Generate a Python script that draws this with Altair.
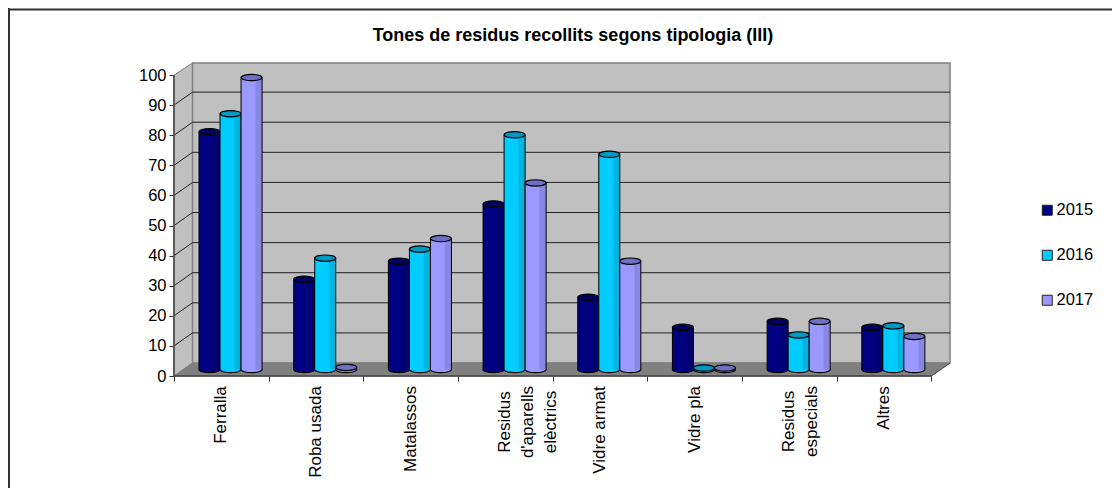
import altair as alt
import pandas as pd

categories = ["Ferralla", "Roba usada", "Matalassos", "Residus\nd'aparells\nelèctrics",
              "Vidre armat", "Vidre pla", "Residus\nespecials", "Altres"]
label_extent = [58, 92, 86, 72, 88, 67, 71, 44]
years = ["2015", "2016", "2017"]
v2015 = [79, 30, 36, 55, 24, 14, 16, 14]
v2016 = [85, 37, 40, 78, 71.5, 0.5, 11.5, 14.5]
v2017 = [97, 0.7, 43.5, 62, 36, 0.5, 16, 11]
series_values = [v2015, v2016, v2017]
y_ticks = list(range(0, 101, 10))

base_col = ["#000080", "#00CCFF", "#9999FF"]
side_col = ["#000070", "#00B4E0", "#8888E4"]
top_col = ["#000060", "#0099C4", "#6F6FC4"]

PLOT_W, PLOT_H = 776, 313
X_MAX = 8.1956
Y_MAX = 104.0
PX_PER_UNIT = PLOT_H / Y_MAX
DX, DY = 0.1956, 4.32        # depth of the 3D box in data units
BAR = 0.222                  # bar width in category units
XOFF, YOFF = 9.2, -6.5       # bars stand in the middle of the depth

rows = []
for s, (yr, vals) in enumerate(zip(years, series_values)):
    for i, (c, v) in enumerate(zip(categories, vals)):
        rows.append({"cat": c, "year": yr, "s": s, "value": v, "zero": 0,
                     "x0": i + 0.5 + (s - 1.5) * BAR,
                     "x1": i + 0.5 + (s - 0.5) * BAR,
                     "xc": i + 0.5 + (s - 1) * BAR})
df = pd.DataFrame(rows)
cat_df = pd.DataFrame({"cat": categories, "xc": [i + 0.5 for i in range(8)],
                       "ly": [-(10 + e / 2) / PX_PER_UNIT for e in label_extent]})
grid_df = pd.DataFrame({"v": y_ticks})
grid_df["vb"] = grid_df.v + DY

FONT = "Liberation Sans"
xs = alt.Scale(domain=[0, X_MAX], nice=False, zero=False)
ys = alt.Scale(domain=[0, Y_MAX], nice=False, zero=False)
x_axis = alt.Axis(values=list(range(0, 9)), labels=False, title=None, grid=False, domain=False,
                  tickColor="#303030", tickSize=5, tickWidth=1)
y_axis = alt.Axis(values=y_ticks, title=None, grid=False, domain=False, labelFont=FONT,
                  labelFontSize=16.5, labelColor="#000000", labelPadding=3,
                  tickColor="#303030", tickSize=5, tickWidth=1)
X = lambda f: alt.X(f, type="quantitative", scale=xs, axis=x_axis)
Y = lambda f: alt.Y(f, type="quantitative", scale=ys, axis=y_axis)
Xd = lambda v: alt.X(datum=v, type="quantitative", scale=xs, axis=x_axis)
Yd = lambda v: alt.Y(datum=v, type="quantitative", scale=ys, axis=y_axis)

layers = []

# outer frame: only its left and top edges fall inside the picture
one = alt.Chart(pd.DataFrame({"a": [0]}))
layers.append(one.mark_rule(color="#333333", strokeWidth=2).encode(
    x=alt.value(-165), y=alt.value(-55), y2=alt.value(433)))
layers.append(one.mark_rule(color="#333333", strokeWidth=2).encode(
    x=alt.value(-166), x2=alt.value(946), y=alt.value(-53.5)))

# side wall, back wall, floor
side = alt.Chart(pd.DataFrame({"x": [0, DX], "lo": [0, DY], "hi": [100, Y_MAX]})).mark_area(
    fill="#C0C0C0", stroke="#808080", strokeWidth=1).encode(
    x=X("x"), y=Y("hi"), y2=alt.Y2("lo"))
back = alt.Chart(pd.DataFrame({"x": [DX, X_MAX], "lo": [DY, DY], "hi": [Y_MAX, Y_MAX]})).mark_area(
    fill="#C0C0C0", stroke="#808080", strokeWidth=1.5).encode(
    x=X("x"), y=Y("hi"), y2=alt.Y2("lo"))
floor = alt.Chart(pd.DataFrame({"x": [0, DX, 8, X_MAX], "lo": [0, 0, 0, DY], "hi": [0, DY, DY, DY]})).mark_area(
    fill="#808080", stroke="#808080").encode(
    x=X("x"), y=Y("hi"), y2=alt.Y2("lo"))
layers += [side, back, floor]

# gridlines on back wall and on side wall
g = alt.Chart(grid_df[grid_df.v.between(10, 90)])
layers.append(g.mark_rule(color="#202020", strokeWidth=1).encode(
    x=Xd(DX), x2=alt.X2(datum=X_MAX), y=Y("vb")))
layers.append(g.mark_rule(color="#202020", strokeWidth=1).encode(
    x=Xd(0), x2=alt.X2(datum=DX), y=Y("v"), y2=alt.Y2("vb")))

# axis lines
layers.append(one.mark_rule(color="#404040", strokeWidth=1.5).encode(x=Xd(0), y=Yd(0), y2=alt.Y2(datum=100)))
layers.append(one.mark_rule(color="#404040", strokeWidth=1.5).encode(x=Xd(0), x2=alt.X2(datum=8), y=Yd(0)))
layers.append(one.mark_rule(color="#505050", strokeWidth=1).encode(x=Xd(8), x2=alt.X2(datum=X_MAX), y=Yd(0), y2=alt.Y2(datum=DY)))

# category labels
layers.append(alt.Chart(cat_df).mark_text(angle=270, align="center", baseline="middle", font=FONT, fontSize=17,
                                          lineBreak="\n", lineHeight=23, color="black").encode(
    x=X("xc"), y=Y("ly"), text="cat:N"))

# bases of the cylinders, which also carry the legend
ELL = "M-1,0 C-1,-0.16 -0.55,-0.3 0,-0.3 C0.55,-0.3 1,-0.16 1,0 C1,0.16 0.55,0.3 0,0.3 C-0.55,0.3 -1,0.16 -1,0 Z"
SIZE = 21.0 ** 2
layers.append(alt.Chart(df).mark_point(
    shape=ELL, size=SIZE, filled=True, opacity=1, stroke="black", strokeWidth=1.2,
    xOffset=XOFF, yOffset=YOFF).encode(
    x=X("xc"), y=Y("zero"),
    color=alt.Color("year:N", scale=alt.Scale(domain=years, range=base_col),
                    legend=alt.Legend(title=None, orient="none", legendX=1041 - 174 - 2, legendY=140 - 1,
                                      symbolType="square", symbolSize=100, symbolStrokeColor="#202020",
                                      symbolStrokeWidth=1, labelFont=FONT, labelFontSize=16.5, labelColor="black",
                                      rowPadding=28, labelOffset=1))))

# cylinder bodies, edges and tops
for s in range(3):
    d = alt.Chart(df[df.s == s])
    grad = alt.Gradient(gradient="linear", x1=0, x2=1, y1=0, y2=0, stops=[
        alt.GradientStop(offset=0, color=base_col[s]),
        alt.GradientStop(offset=0.65, color=base_col[s]),
        alt.GradientStop(offset=0.72, color=side_col[s]),
        alt.GradientStop(offset=1, color=side_col[s])])
    layers.append(d.mark_rect(fill=grad, xOffset=XOFF, x2Offset=XOFF, yOffset=YOFF, y2Offset=YOFF).encode(
        x=X("x0"), x2="x1:Q", y=Y("value"), y2=alt.Y2(datum=0)))
    for edge in ("x0", "x1"):
        layers.append(d.mark_rule(color="black", strokeWidth=1, xOffset=XOFF, yOffset=YOFF, y2Offset=YOFF).encode(
            x=X(edge), y=Y("value"), y2=alt.Y2(datum=0)))
    layers.append(d.mark_point(shape=ELL, size=SIZE, filled=True, fill=top_col[s], opacity=1, stroke="black",
                               strokeWidth=1.2, xOffset=XOFF, yOffset=YOFF).encode(x=X("xc"), y=Y("value")))

chart = alt.layer(*layers).resolve_scale(color="independent").properties(
    width=PLOT_W, height=PLOT_H,
    title=alt.TitleParams("Tones de residus recollits segons tipologia (III)", font=FONT, fontSize=18,
                          fontWeight="bold", color="black", anchor="middle", dx=11, offset=-38),
    padding={"left": 166, "top": 55, "right": 162, "bottom": 112},
    autosize=alt.AutoSizeParams(type="none"),
).configure_view(stroke=None)

chart.save("out.html", embed_options={"renderer": "svg", "actions": False})
